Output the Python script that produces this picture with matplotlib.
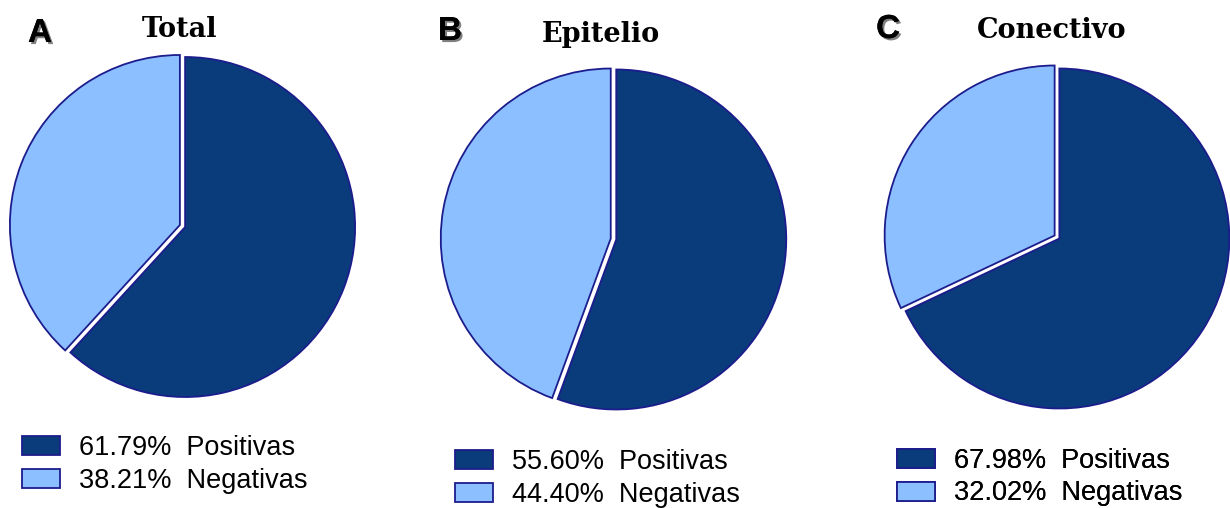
import matplotlib.pyplot as plt
import matplotlib.patheffects as pe

W, H = 1230, 508

panels = ["A", "B", "C"]
titles = ["Total", "Epitelio", "Conectivo"]
positivas = [61.79, 55.60, 67.98]
negativas = [38.21, 44.40, 32.02]
labels = ["Positivas", "Negativas"]

DARK = "#0a3c7c"
LIGHT = "#8cbfff"
EDGE = "#1c1c8c"

# layout in pixels (y measured from top)
centers = [(182.5, 226), (613.5, 239), (1057, 237)]
radius = 170
gap = 2.8  # explode offset in pixels
letter_pos = [(40, 42), (450, 40), (888, 38)]
title_pos = [(180, 37), (601, 42), (1052, 38)]
legend_pos = [(22, 435), (455, 449), (897, 448)]

fig = plt.figure(figsize=(W / 100, H / 100), dpi=100)
ax = fig.add_axes([0, 0, 1, 1])

for i in range(3):
    cx, cy = centers[i]
    wedges, _ = ax.pie(
        [positivas[i], negativas[i]],
        colors=[DARK, LIGHT],
        startangle=90,
        counterclock=False,
        center=(cx, H - cy),
        radius=radius,
        explode=[gap, gap],
        wedgeprops={"edgecolor": EDGE, "linewidth": 1.3},
    )
    ax.text(letter_pos[i][0], H - letter_pos[i][1], panels[i], ha="center", va="baseline",
            fontsize=24, fontweight="bold", family="Liberation Sans",
            path_effects=[pe.withSimplePatchShadow(offset=(1.5, -1.5), alpha=0.5), pe.Normal()])
    ax.text(title_pos[i][0], H - title_pos[i][1], titles[i], ha="center", va="baseline",
            fontsize=19.5, fontweight="bold", family="DejaVu Serif")
    leg_labels = [f"{positivas[i]:.2f}%  {labels[0]}", f"{negativas[i]:.2f}%  {labels[1]}"]
    leg = ax.legend(wedges, leg_labels, loc="upper left",
                    bbox_to_anchor=(legend_pos[i][0], H - legend_pos[i][1]),
                    bbox_transform=ax.transData, frameon=False,
                    prop={"family": "Liberation Sans", "size": 19.5},
                    handlelength=1.4, handleheight=0.7, handletextpad=0.72,
                    labelspacing=0.24, borderpad=0, borderaxespad=0)
    ax.add_artist(leg)

ax.set_xlim(0, W)
ax.set_ylim(0, H)
ax.set_aspect("equal")
ax.axis("off")

fig.savefig("out.png", dpi=100)
